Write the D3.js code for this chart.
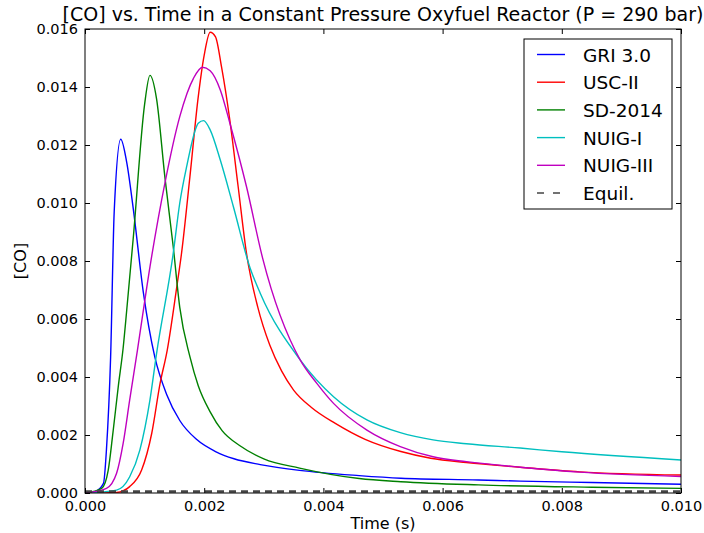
<!DOCTYPE html>
<html>
<head>
<meta charset="utf-8">
<script src="https://cdn.jsdelivr.net/npm/d3@7"></script>
<style>
  body { margin: 0; background: #fff; }
  text { font-family: "DejaVu Sans", sans-serif; }
</style>
</head>
<body>
<svg id="chart"></svg>
<script>
// series values
const seriesNames = ["GRI 3.0", "USC-II", "SD-2014", "NUIG-I", "NUIG-III", "Equil."];

const griTime = [0, 0.00017, 0.00031, 0.00036, 0.00043, 0.00049, 0.0006, 0.0007, 0.00081, 0.00098, 0.00117, 0.00137, 0.00159, 0.00187, 0.0022, 0.0025, 0.00294, 0.0036, 0.0046, 0.0053, 0.0066, 0.0073, 0.0085, 0.010];
const griCO = [0, 0.00005, 0.00033, 0.0015, 0.0047, 0.0097, 0.0122, 0.0114, 0.0098, 0.0069, 0.0047, 0.0034, 0.0025, 0.00185, 0.00142, 0.00118, 0.00098, 0.00078, 0.0006, 0.00051, 0.00045, 0.00041, 0.00036, 0.0003];

const uscTime = [0, 0.00053, 0.00075, 0.00095, 0.00112, 0.00126, 0.00138, 0.00154, 0.00162, 0.00176, 0.0019, 0.002, 0.0021, 0.00219, 0.00229, 0.00243, 0.00257, 0.00271, 0.0029, 0.0031, 0.0033, 0.0035, 0.0038, 0.0042, 0.0047, 0.0053, 0.0058, 0.0064, 0.0073, 0.0083, 0.010];
const uscCO = [0, 0.00002, 0.00022, 0.00079, 0.00206, 0.00378, 0.00493, 0.00711, 0.00827, 0.0109, 0.01366, 0.0151, 0.01589, 0.01573, 0.0147, 0.01286, 0.01056, 0.00826, 0.0064, 0.0051, 0.0042, 0.00355, 0.00295, 0.0024, 0.00185, 0.00143, 0.0012, 0.00105, 0.00089, 0.00073, 0.00062];

const sdTime = [0, 0.00028, 0.00039, 0.00047, 0.00056, 0.00064, 0.0007, 0.00081, 0.001, 0.00109, 0.0012, 0.00134, 0.00148, 0.00159, 0.00176, 0.0019, 0.0021, 0.0023, 0.0026, 0.003, 0.0036, 0.0046, 0.0053, 0.0066, 0.0085, 0.010];
const sdCO = [0, 0.00016, 0.00079, 0.0021, 0.0037, 0.005, 0.0063, 0.0088, 0.0134, 0.0144, 0.0136, 0.0109, 0.0085, 0.0064, 0.0047, 0.0037, 0.0028, 0.00215, 0.00163, 0.00118, 0.00086, 0.0005, 0.00039, 0.00028, 0.0002, 0.00016];

const nuig1Time = [0, 0.00053, 0.00075, 0.00092, 0.00109, 0.0012, 0.00148, 0.00159, 0.00171, 0.00187, 0.0019, 0.00199, 0.0021, 0.00227, 0.00249, 0.00277, 0.00294, 0.00361, 0.00417, 0.00473, 0.00529, 0.00584, 0.0064, 0.0073, 0.008, 0.010];
const nuig1CO = [0, 0.0001, 0.00056, 0.00148, 0.00321, 0.0048, 0.00826, 0.01, 0.0113, 0.01263, 0.01275, 0.01284, 0.01252, 0.01148, 0.00987, 0.00776, 0.00689, 0.00459, 0.00332, 0.00252, 0.00208, 0.00183, 0.0017, 0.00155, 0.00142, 0.00114];

const nuig3Time = [0, 0.00036, 0.00053, 0.00064, 0.00075, 0.00088, 0.00109, 0.00134, 0.00159, 0.00182, 0.00197, 0.0021, 0.00227, 0.00243, 0.00271, 0.00298, 0.00361, 0.00389, 0.00417, 0.00473, 0.00529, 0.00584, 0.0064, 0.0073, 0.0083, 0.010];
const nuig3CO = [0, 0.00016, 0.00068, 0.00171, 0.00321, 0.00493, 0.0078, 0.01068, 0.01298, 0.0143, 0.01468, 0.01456, 0.0139, 0.01276, 0.01056, 0.0081, 0.00459, 0.00378, 0.00309, 0.00217, 0.0016, 0.00125, 0.00108, 0.00089, 0.00072, 0.00057];

const equilTime = [0, 0.010];
const equilCO = [0.00005, 0.00005];

const xTicks = [0, 0.002, 0.004, 0.006, 0.008, 0.010];
const yTicks = [0, 0.002, 0.004, 0.006, 0.008, 0.010, 0.012, 0.014, 0.016];

const width = 704, height = 533;
const margin = { left: 85, right: 23, top: 29, bottom: 40 };

const svg = d3.select("#chart").attr("width", width).attr("height", height);

const x = d3.scaleLinear().domain([0, 0.01]).range([margin.left, width - margin.right]);
const y = d3.scaleLinear().domain([0, 0.016]).range([height - margin.bottom, margin.top]);

const series = [
  { name: seriesNames[0], t: griTime, v: griCO, color: "#0000ff" },
  { name: seriesNames[1], t: uscTime, v: uscCO, color: "#ff0000" },
  { name: seriesNames[2], t: sdTime, v: sdCO, color: "#008000" },
  { name: seriesNames[3], t: nuig1Time, v: nuig1CO, color: "#00bfbf" },
  { name: seriesNames[4], t: nuig3Time, v: nuig3CO, color: "#bf00bf" },
  { name: seriesNames[5], t: equilTime, v: equilCO, color: "#444444", dash: "7,5", w: 2.4 }
];

const line = d3.line()
  .x((d) => x(d[0]))
  .y((d) => y(d[1]))
  .curve(d3.curveMonotoneX);

// clip so nothing spills over the frame
svg.append("clipPath").attr("id", "clip")
  .append("rect")
  .attr("x", margin.left).attr("y", margin.top)
  .attr("width", x(0.01) - x(0)).attr("height", y(0) - y(0.016));

const plot = svg.append("g").attr("clip-path", "url(#clip)");

plot.selectAll("path.series")
  .data(series)
  .enter()
  .append("path")
  .attr("class", "series")
  .attr("d", (s) => line(s.t.map((t, i) => [t, s.v[i]])))
  .attr("fill", "none")
  .attr("stroke", (s) => s.color)
  .attr("stroke-width", (s) => s.w || 1.4)
  .attr("stroke-dasharray", (s) => s.dash || null);

// axes: ticks point inward on all four sides
const fmt = d3.format(".3f");
const tickLen = 5;

svg.append("g")
  .attr("transform", `translate(0,${y(0)})`)
  .call(d3.axisBottom(x).tickValues(xTicks).tickFormat(fmt).tickSizeInner(-tickLen).tickSizeOuter(0).tickPadding(8))
  .call((g) => g.select(".domain").remove());

svg.append("g")
  .attr("transform", `translate(0,${y(0.016)})`)
  .call(d3.axisTop(x).tickValues(xTicks).tickFormat("").tickSizeInner(-tickLen).tickSizeOuter(0))
  .call((g) => g.select(".domain").remove());

svg.append("g")
  .attr("transform", `translate(${x(0)},0)`)
  .call(d3.axisLeft(y).tickValues(yTicks).tickFormat(fmt).tickSizeInner(-tickLen).tickSizeOuter(0).tickPadding(7))
  .call((g) => g.select(".domain").remove());

svg.append("g")
  .attr("transform", `translate(${x(0.01)},0)`)
  .call(d3.axisRight(y).tickValues(yTicks).tickFormat("").tickSizeInner(-tickLen).tickSizeOuter(0))
  .call((g) => g.select(".domain").remove());

svg.selectAll(".tick text")
  .attr("font-family", "DejaVu Sans, sans-serif")
  .attr("font-size", 14.5)
  .attr("fill", "#000");
svg.selectAll(".tick line").attr("stroke", "#000");

// frame
svg.append("rect")
  .attr("x", x(0)).attr("y", y(0.016))
  .attr("width", x(0.01) - x(0)).attr("height", y(0) - y(0.016))
  .attr("fill", "none").attr("stroke", "#000").attr("stroke-width", 1);

// title and axis labels
svg.append("text")
  .attr("x", (x(0) + x(0.01)) / 2)
  .attr("y", 21)
  .attr("text-anchor", "middle")
  .attr("font-size", 19)
  .text("[CO] vs. Time in a Constant Pressure Oxyfuel Reactor (P = 290 bar)");

svg.append("text")
  .attr("x", (x(0) + x(0.01)) / 2)
  .attr("y", 529)
  .attr("text-anchor", "middle")
  .attr("font-size", 16)
  .text("Time (s)");

svg.append("text")
  .attr("transform", `translate(26,${(y(0) + y(0.016)) / 2}) rotate(-90)`)
  .attr("text-anchor", "middle")
  .attr("font-size", 16)
  .text("[CO]");

// legend
const legend = svg.append("g").attr("transform", "translate(524,39)");
legend.append("rect")
  .attr("width", 148).attr("height", 170)
  .attr("fill", "#fff").attr("stroke", "#000").attr("stroke-width", 1);

const rows = legend.selectAll("g.row")
  .data(series)
  .enter()
  .append("g")
  .attr("class", "row")
  .attr("transform", (d, i) => `translate(0,${15.5 + i * 27.7})`);

rows.append("line")
  .attr("x1", 13).attr("x2", 41)
  .attr("stroke", (d) => d.color)
  .attr("stroke-width", (d) => (d.dash ? 1.6 : 1.4))
  .attr("stroke-dasharray", (d) => (d.dash ? "7,9" : null));

rows.append("text")
  .attr("x", 59)
  .attr("y", 7)
  .attr("font-size", 18.5)
  .text((d) => d.name);
</script>
</body>
</html>
